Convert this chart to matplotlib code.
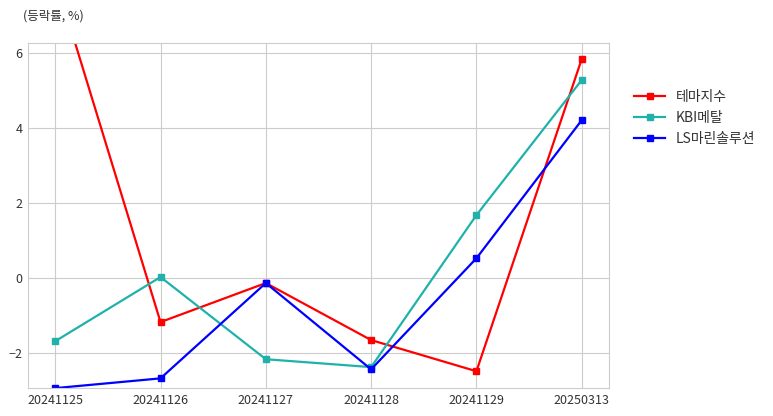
import numpy as np
import matplotlib.pyplot as plt

plt.rcParams['font.family'] = ['Noto Sans CJK KR', 'DejaVu Sans']

dates = ['20241125', '20241126', '20241127', '20241128', '20241129', '20250313']
theme = [8.0, -1.17, -0.13, -1.65, -2.48, 5.84]
kbi = [-1.68, 0.03, -2.16, -2.37, 1.68, 5.28]
ls_marine = [-2.93, -2.67, -0.13, -2.43, 0.53, 4.21]

names = ['테마지수', 'KBI메탈', 'LS마린솔루션']
colors = ['#ff0000', '#20b2aa', '#0000ff']

fig = plt.figure(figsize=(7.73, 4.16), dpi=100)
ax = fig.add_axes([0.036, 0.067, 0.752, 0.83])

x = np.arange(len(dates))
for vals, name, c in zip([theme, kbi, ls_marine], names, colors):
    ax.plot(x, vals, color=c, marker='s', markersize=4, linewidth=1.6, label=name)

ax.set_xticks(x)
ax.set_xticklabels(dates)
ax.set_xlim(-0.26, 5.26)
ax.set_ylim(-2.93, 6.27)
ax.set_yticks([-2, 0, 2, 4, 6])
ax.grid(True, color='#cccccc', linewidth=0.8)
ax.set_axisbelow(True)
for s in ax.spines.values():
    s.set_color('#cccccc')
ax.tick_params(length=0, labelsize=9, colors='#333333', pad=4)

fig.text(0.03, 0.962, '(등락률, %)', fontsize=9, color='#333333', va='center')
ax.legend(loc='upper left', bbox_to_anchor=(1.022, 0.90), frameon=False, fontsize=10,
          labelcolor='#333333', handlelength=2.2)

fig.savefig('out.png', dpi=100)
